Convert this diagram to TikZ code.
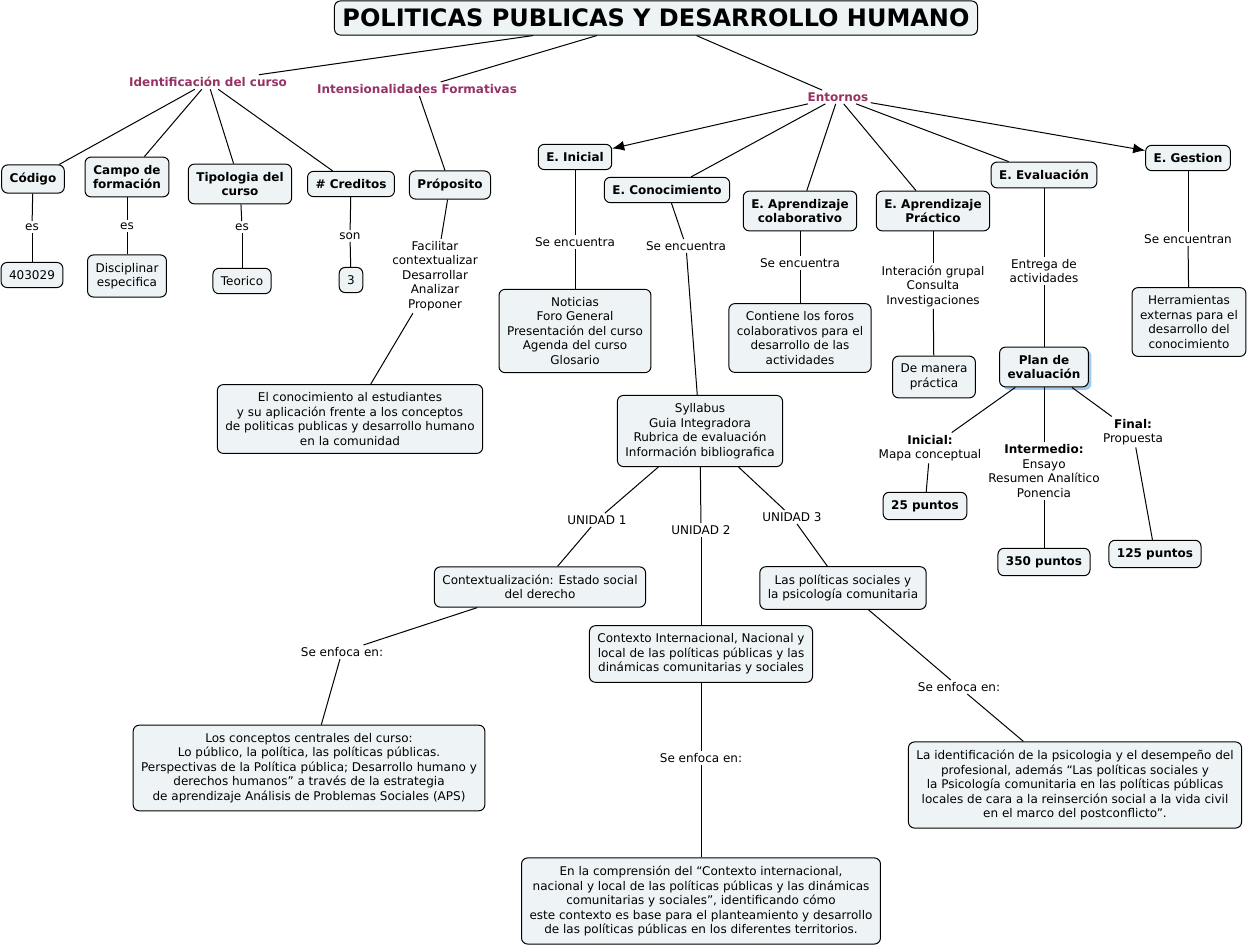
\documentclass[tikz,border=0pt]{standalone}
\usepackage{fontspec}
\setmainfont{DejaVu Sans}
\usetikzlibrary{
    arrows.meta,
    shadows
    }
\definecolor{boxfill}{RGB}{238,244,245}
\definecolor{topicpurple}{RGB}{150,50,100}
\definecolor{shadowblue}{RGB}{160,200,240}

\begin{document}
\begin{tikzpicture}[x=0.5pt, y=-0.5pt]
\tikzset{concept/.style =
        {
            rectangle,
            rounded corners=3pt,
            draw=black,
            line width=0.5pt,
            fill=boxfill,
            align=center,
            inner xsep=4pt,
            inner ysep=4pt,
            font=\fontsize{6}{7.25}\selectfont
        }
}

\tikzset{keyconcept/.style =
        {
            concept,
            font=\fontsize{6}{7.25}\selectfont\bfseries
        }
}

\tikzset{topic/.style =
        {
            text=topicpurple,
            inner sep=1pt,
            font=\fontsize{6}{7.25}\selectfont\bfseries
        }
}

\tikzset{linkword/.style =
        {
            align=center,
            inner sep=1pt,
            font=\fontsize{6}{7.25}\selectfont
        }
}

\tikzset{link/.style = {
            line width=0.5pt,
            draw=black
        }
}

\tikzset{arrowlink/.style = {
            link,
            -{Latex[length=6pt, width=5pt]}
        }
}
    \useasboundingbox (0,0) rectangle (1250,947);

    \node[concept, font=\fontsize{12}{14}\selectfont\bfseries] (title) at (656,18) {POLITICAS PUBLICAS Y DESARROLLO HUMANO};

    \node[topic] (ident) at (208,82) {Identificación del curso};
    \node[topic] (intens) at (417,89) {Intensionalidades Formativas};
    \node[topic] (entornos) at (838,97) {Entornos};

    % identificacion del curso
    \node[keyconcept] (codigo) at (33,179) {Código};
    \node[keyconcept] (campo) at (127,177) {Campo de\\formación};
    \node[keyconcept] (tipologia) at (240,184) {Tipologia del\\curso};
    \node[keyconcept] (creditos) at (351,184) {\# Creditos};
    \node[keyconcept] (proposito) at (450,185) {Próposito};

    \node[linkword] (es-1) at (32,227) {es};
    \node[linkword] (es-2) at (127,226) {es};
    \node[linkword] (es-3) at (242,227) {es};
    \node[linkword] (son) at (350,236) {son};
    \node[linkword] (facilitar) at (435,276) {Facilitar\\contextualizar\\Desarrollar\\Analizar\\Proponer};

    \node[concept] (codnum) at (32,275) {403029};
    \node[concept] (disciplinar) at (127,276) {Disciplinar\\especifica};
    \node[concept] (teorico) at (242,281) {Teorico};
    \node[concept] (tres) at (351,280) {3};
    \node[concept] (estudiantes) at (350,419) {El conocimiento al estudiantes\\y su aplicación frente a los conceptos\\de politicas publicas y desarrollo humano\\en la comunidad};

    % entornos
    \node[keyconcept] (einicial) at (575,157) {E. Inicial};
    \node[keyconcept] (econoc) at (667,190) {E. Conocimiento};
    \node[keyconcept] (ecolab) at (800,211) {E. Aprendizaje\\colaborativo};
    \node[keyconcept] (epract) at (933,211) {E. Aprendizaje\\Práctico};
    \node[keyconcept] (eeval) at (1044,175) {E. Evaluación};
    \node[keyconcept] (egestion) at (1188,158) {E. Gestion};

    \node[linkword] (se-inicial) at (575,242) {Se encuentra};
    \node[linkword] (se-conoc) at (686,246) {Se encuentra};
    \node[linkword] (se-colab) at (800,263) {Se encuentra};
    \node[linkword] (interaccion) at (933,286) {Interación grupal\\Consulta\\Investigaciones};
    \node[linkword] (entrega) at (1044,271) {Entrega de\\actividades};
    \node[linkword] (se-gestion) at (1188,239) {Se encuentran};

    \node[concept] (noticias) at (575,331) {Noticias\\Foro General\\Presentación del curso\\Agenda del curso\\Glosario};
    \node[concept] (foros) at (800,338) {Contiene los foros\\colaborativos para el\\desarrollo de las\\actividades};
    \node[concept] (manera) at (934,377) {De manera\\práctica};
    \node[keyconcept, drop shadow={shadow xshift=1.5pt, shadow yshift=-1.5pt, fill=shadowblue, opacity=1}] (plan) at (1044,367) {Plan de\\evaluación};
    \node[concept] (herram) at (1189,322) {Herramientas\\externas para el\\desarrollo del\\conocimiento};

    % plan de evaluacion
    \node[linkword] (inicial) at (930,448) {\textbf{Inicial:}\\Mapa conceptual};
    \node[linkword] (intermedio) at (1044,471) {\textbf{Intermedio:}\\Ensayo\\Resumen Analítico\\Ponencia};
    \node[linkword] (final) at (1133,432) {\textbf{Final:}\\Propuesta};

    \node[keyconcept] (p25) at (925,506) {25 puntos};
    \node[keyconcept] (p350) at (1044,562) {350 puntos};
    \node[keyconcept] (p125) at (1155,554) {125 puntos};

    % unidades
    \node[concept] (syllabus) at (700,431) {Syllabus\\Guia Integradora\\Rubrica de evaluación\\Información bibliografica};
    \node[linkword] (unidad-1) at (597,520) {UNIDAD 1};
    \node[linkword] (unidad-2) at (701,530) {UNIDAD 2};
    \node[linkword] (unidad-3) at (792,517) {UNIDAD 3};

    \node[concept] (contextual) at (540,587) {Contextualización: Estado social\\del derecho};
    \node[concept] (psico) at (843,588) {Las políticas sociales y\\la psicología comunitaria};
    \node[concept] (contexto) at (701,654) {Contexto Internacional, Nacional y\\local de las políticas públicas y las\\dinámicas comunitarias y sociales};

    \node[linkword] (enfoca-1) at (342,652) {Se enfoca en:};
    \node[linkword] (enfoca-2) at (701,758) {Se enfoca en:};
    \node[linkword] (enfoca-3) at (959,687) {Se enfoca en:};

    \node[concept] (centrales) at (309,768) {Los conceptos centrales del curso:\\Lo público, la política, las políticas públicas.\\Perspectivas de la Política pública; Desarrollo humano y\\derechos humanos” a través de la estrategia\\de aprendizaje Análisis de Problemas Sociales (APS)};
    \node[concept] (comprension) at (701,901) {En la comprensión del “Contexto internacional,\\nacional y local de las políticas públicas y las dinámicas\\comunitarias y sociales”, identificando cómo\\este contexto es base para el planteamiento y desarrollo\\de las políticas públicas en los diferentes territorios.};
    \node[concept] (identif) at (1075,785) {La identificación de la psicologia y el desempeño del\\profesional, además “Las políticas sociales y\\la Psicología comunitaria en las políticas públicas\\locales de cara a la reinserción social a la vida civil\\en el marco del postconflicto”.};

    % connectors
    \foreach \from / \to in
        {title/ident, title/intens, title/entornos,
            ident/codigo, ident/campo, ident/tipologia, ident/creditos,
            intens/proposito,
            codigo/es-1, es-1/codnum,
            campo/es-2, es-2/disciplinar,
            tipologia/es-3, es-3/teorico,
            creditos/son, son/tres,
            proposito/facilitar, facilitar/estudiantes,
            entornos/econoc, entornos/ecolab, entornos/epract, entornos/eeval,
            einicial/se-inicial, se-inicial/noticias,
            econoc/se-conoc, se-conoc/syllabus,
            ecolab/se-colab, se-colab/foros,
            epract/interaccion, interaccion/manera,
            eeval/entrega, entrega/plan,
            egestion/se-gestion, se-gestion/herram,
            plan/inicial, inicial/p25,
            plan/intermedio, intermedio/p350,
            plan/final, final/p125,
            syllabus/unidad-1, unidad-1/contextual,
            syllabus/unidad-2, unidad-2/contexto,
            syllabus/unidad-3, unidad-3/psico,
            contextual/enfoca-1, enfoca-1/centrales,
            contexto/enfoca-2, enfoca-2/comprension,
            psico/enfoca-3, enfoca-3/identif}
        {
            \draw [link] (\from) -- (\to);
        }

    \draw [arrowlink] (entornos) -- (einicial);
    \draw [arrowlink] (entornos) -- (egestion);

\end{tikzpicture}
\end{document}
